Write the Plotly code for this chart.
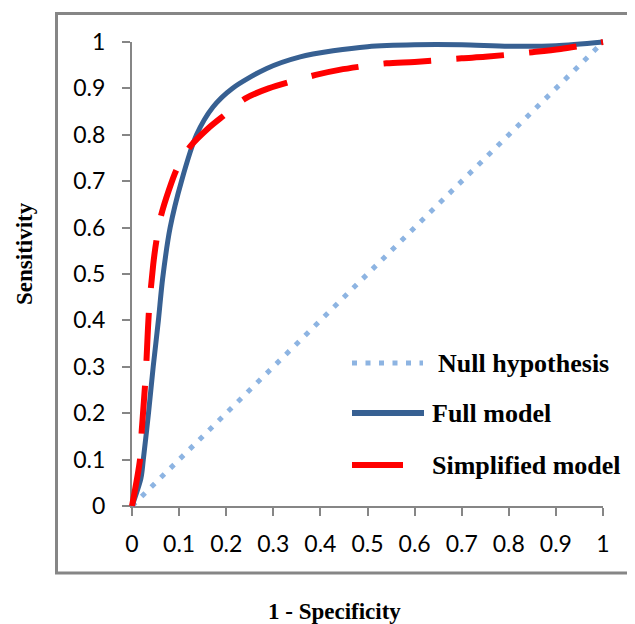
import plotly.graph_objects as go

# ---------------- data ----------------
null_x = [0, 1]
null_y = [0, 1]

full_x = [0, 0.019, 0.024, 0.035, 0.045, 0.056, 0.065, 0.081, 0.105, 0.137, 0.172,
          0.213, 0.286, 0.357, 0.427, 0.5, 0.6, 0.7, 0.8, 0.9, 1.0]
full_y = [0, 0.06, 0.10, 0.20, 0.30, 0.40, 0.49, 0.60, 0.70, 0.80, 0.86,
          0.90, 0.943, 0.968, 0.981, 0.99, 0.994, 0.994, 0.991, 0.992, 1.0]

simp_x = [0, 0.017, 0.0205, 0.029, 0.036, 0.045, 0.052, 0.062, 0.078, 0.095, 0.123,
          0.162, 0.197, 0.24, 0.29, 0.39, 0.44, 0.54, 0.6, 0.7, 0.75, 0.85, 0.91, 1.0]
simp_y = [0, 0.10, 0.16, 0.28, 0.42, 0.52, 0.573, 0.627, 0.68, 0.726, 0.774,
          0.814, 0.843, 0.878, 0.90, 0.929, 0.94, 0.954, 0.957, 0.965, 0.968, 0.978, 0.985, 1.0]

tick_vals = [0, 0.1, 0.2, 0.3, 0.4, 0.5, 0.6, 0.7, 0.8, 0.9, 1]
tick_text = ["0", "0.1", "0.2", "0.3", "0.4", "0.5", "0.6", "0.7", "0.8", "0.9", "1"]

series_names = ["Null hypothesis", "Full model", "Simplified model"]
x_title = "1 - Specificity"
y_title = "Sensitivity"

# ---------------- layout geometry (window pixels) ----------------
OFF = 8                      # page body margin
W, H = 635 - OFF, 624 - OFF  # figure size
L, R = 132, 603      # x=0, x=1 (window px)
T, B = 42, 506       # y=1, y=0 (window px)
PAD = 20

def px(x):
    return (x - OFF) / W

def py(y):
    return 1 - (y - OFF) / H

NULL_COLOR = "#8DB4E2"
FULL_COLOR = "#376092"
SIMP_COLOR = "#FF0000"
AXIS_COLOR = "#868686"

NULL_DASH = "5px,8.5px"
SIMP_DASH = "48px,25px"

fig = go.Figure()

# empty trace to keep main axes subplot
fig.add_trace(go.Scatter(x=[], y=[], xaxis="x", yaxis="y", showlegend=False, hoverinfo="skip"))

fig.add_trace(go.Scatter(x=null_x, y=null_y, mode="lines", name=series_names[0],
                         line=dict(color=NULL_COLOR, width=5, dash=NULL_DASH),
                         xaxis="x2", yaxis="y2", showlegend=False))
fig.add_trace(go.Scatter(x=full_x, y=full_y, mode="lines", name=series_names[1],
                         line=dict(color=FULL_COLOR, width=5, shape="spline", smoothing=0.8),
                         xaxis="x2", yaxis="y2", showlegend=False))
fig.add_trace(go.Scatter(x=simp_x, y=simp_y, mode="lines", name=series_names[2],
                         line=dict(color=SIMP_COLOR, width=6, dash=SIMP_DASH, shape="spline", smoothing=0.8),
                         xaxis="x2", yaxis="y2", showlegend=False))

tickfont = dict(family="Lato", size=23, color="black")
axis_common = dict(range=[0, 1], showline=True, linecolor=AXIS_COLOR, linewidth=2,
                   ticks="outside", ticklen=8, tickwidth=2, tickcolor=AXIS_COLOR,
                   showgrid=False, zeroline=False, tickmode="array",
                   tickvals=tick_vals, ticktext=tick_text, tickfont=tickfont,
                   fixedrange=True, automargin=False)

ux = PAD / (R - L)
uy = PAD / (B - T)

fig.update_layout(
    width=W, height=H,
    margin=dict(l=0, r=0, t=0, b=0, pad=0, autoexpand=False),
    paper_bgcolor="white", plot_bgcolor="rgba(0,0,0,0)",
    showlegend=False,
    xaxis=dict(domain=[px(L), px(R)], anchor="y", ticklabelstandoff=8, **axis_common),
    yaxis=dict(domain=[py(B), py(T)], anchor="x", ticklabelstandoff=12, **axis_common),
    xaxis2=dict(domain=[px(L - PAD), px(R + PAD)], range=[-ux, 1 + ux], anchor="y2",
                visible=False, fixedrange=True),
    yaxis2=dict(domain=[py(B + PAD), py(T - PAD)], range=[-uy, 1 + uy], anchor="x2",
                visible=False, fixedrange=True),
)

# outer border
fig.add_shape(type="rect", xref="paper", yref="paper",
              x0=px(56.5), x1=px(645), y0=py(573), y1=py(13.5),
              line=dict(color=AXIS_COLOR, width=3), layer="below")

title_font = dict(family="Liberation Serif", size=23, color="black", weight="bold")
fig.add_annotation(text=x_title, xref="paper", yref="paper", x=px(334), y=py(611),
                   showarrow=False, font=title_font, xanchor="center", yanchor="middle")
fig.add_annotation(text=y_title, xref="paper", yref="paper", x=px(24), y=py(254),
                   showarrow=False, font=title_font, textangle=-90,
                   xanchor="center", yanchor="middle")

# manual legend
leg_font = dict(family="Liberation Serif", size=26, color="black", weight="bold")
legend_items = [
    (series_names[0], NULL_COLOR, 5, NULL_DASH, 352, 423, 363, 436),
    (series_names[1], FULL_COLOR, 6, "solid", 352, 424, 413, 430),
    (series_names[2], SIMP_COLOR, 6, "solid", 352, 403, 465, 430),
]
for name, color, w, dash, x0, x1, yy, tx in legend_items:
    fig.add_shape(type="line", xref="paper", yref="paper",
                  x0=px(x0), x1=px(x1), y0=py(yy), y1=py(yy),
                  line=dict(color=color, width=w, dash=dash))
    fig.add_annotation(text=name, xref="paper", yref="paper", x=px(tx), y=py(yy),
                       showarrow=False, font=leg_font, xanchor="left", yanchor="middle")

fig.write_html("out.html")
